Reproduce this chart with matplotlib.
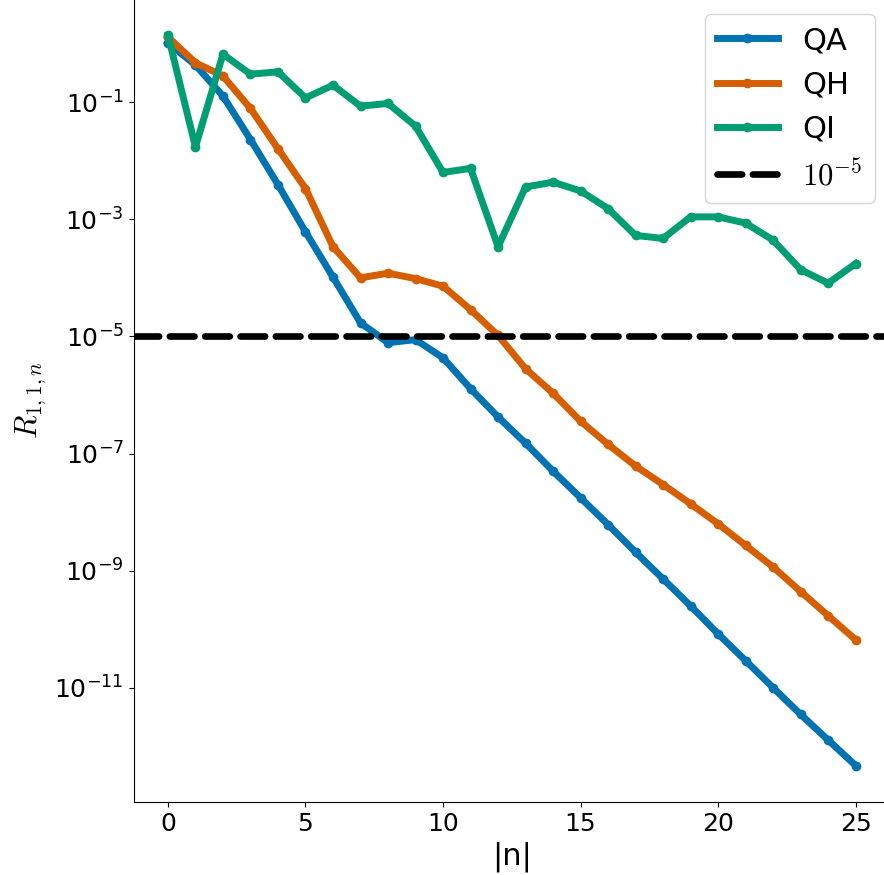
import matplotlib
matplotlib.use("Agg")
import matplotlib.pyplot as plt
import numpy as np

plt.rcParams['mathtext.fontset'] = 'cm'
plt.rcParams['font.family'] = ['DejaVu Sans']

n = list(range(26))
QA = [1.03, 0.43, 0.127, 0.023, 3.9e-3, 6.1e-4, 1.03e-4, 1.7e-5, 7.8e-6, 8.8e-6,
      4.3e-6, 1.28e-6, 4.2e-7, 1.5e-7, 5.0e-8, 1.75e-8, 6.1e-9, 2.06e-9, 7.2e-10,
      2.5e-10, 8.3e-11, 2.9e-11, 1.0e-11, 3.5e-12, 1.28e-12, 4.7e-13]
QH = [1.3, 0.47, 0.28, 0.078, 0.016, 3.35e-3, 3.4e-4, 1.0e-4, 1.2e-4, 9.7e-5,
      7.2e-5, 2.86e-5, 1.04e-5, 2.8e-6, 1.07e-6, 3.56e-7, 1.43e-7, 6.1e-8, 2.95e-8,
      1.38e-8, 6.3e-9, 2.7e-9, 1.15e-9, 4.4e-10, 1.7e-10, 6.6e-11]
QI = [1.4, 0.0172, 0.66, 0.30, 0.33, 0.118, 0.195, 0.0855, 0.095, 0.039,
      0.0063, 0.0074, 3.4e-4, 3.56e-3, 4.3e-3, 3.05e-3, 1.52e-3, 5.3e-4, 4.7e-4,
      1.1e-3, 1.1e-3, 8.6e-4, 4.4e-4, 1.38e-4, 8.1e-5, 1.75e-4]
threshold = 1e-5
labels = ['QA', 'QH', 'QI', r'$10^{-5}$']
colors = ['#0173B2', '#D55E00', '#029E73']
xticks = [0, 5, 10, 15, 20, 25]
yticks = [1e-1, 1e-3, 1e-5, 1e-7, 1e-9, 1e-11]

fig = plt.figure(figsize=(8.84, 8.75), dpi=100)
ax = fig.add_axes([0.1511, 0.0834, 0.8557, 0.9183])

for ys, lab, c in zip([QA, QH, QI], labels[:3], colors):
    ax.plot(n, ys, '-o', color=c, lw=5, ms=6, label=lab)
ax.axhline(threshold, color='black', ls='--', lw=4.8, dash_capstyle='round', label=labels[3])

ax.set_yscale('log')
ax.set_yticks(yticks)
ax.minorticks_off()
ax.set_xticks(xticks)
ax.tick_params(labelsize=18)
ax.spines['top'].set_visible(False)
ax.spines['right'].set_visible(False)
ax.set_xlabel('|n|', fontsize=22)
ax.set_ylabel(r'$R_{1,1,n}$', fontsize=22)
ax.legend(loc='upper right', fontsize=22)

fig.savefig('out.png', dpi=100)
